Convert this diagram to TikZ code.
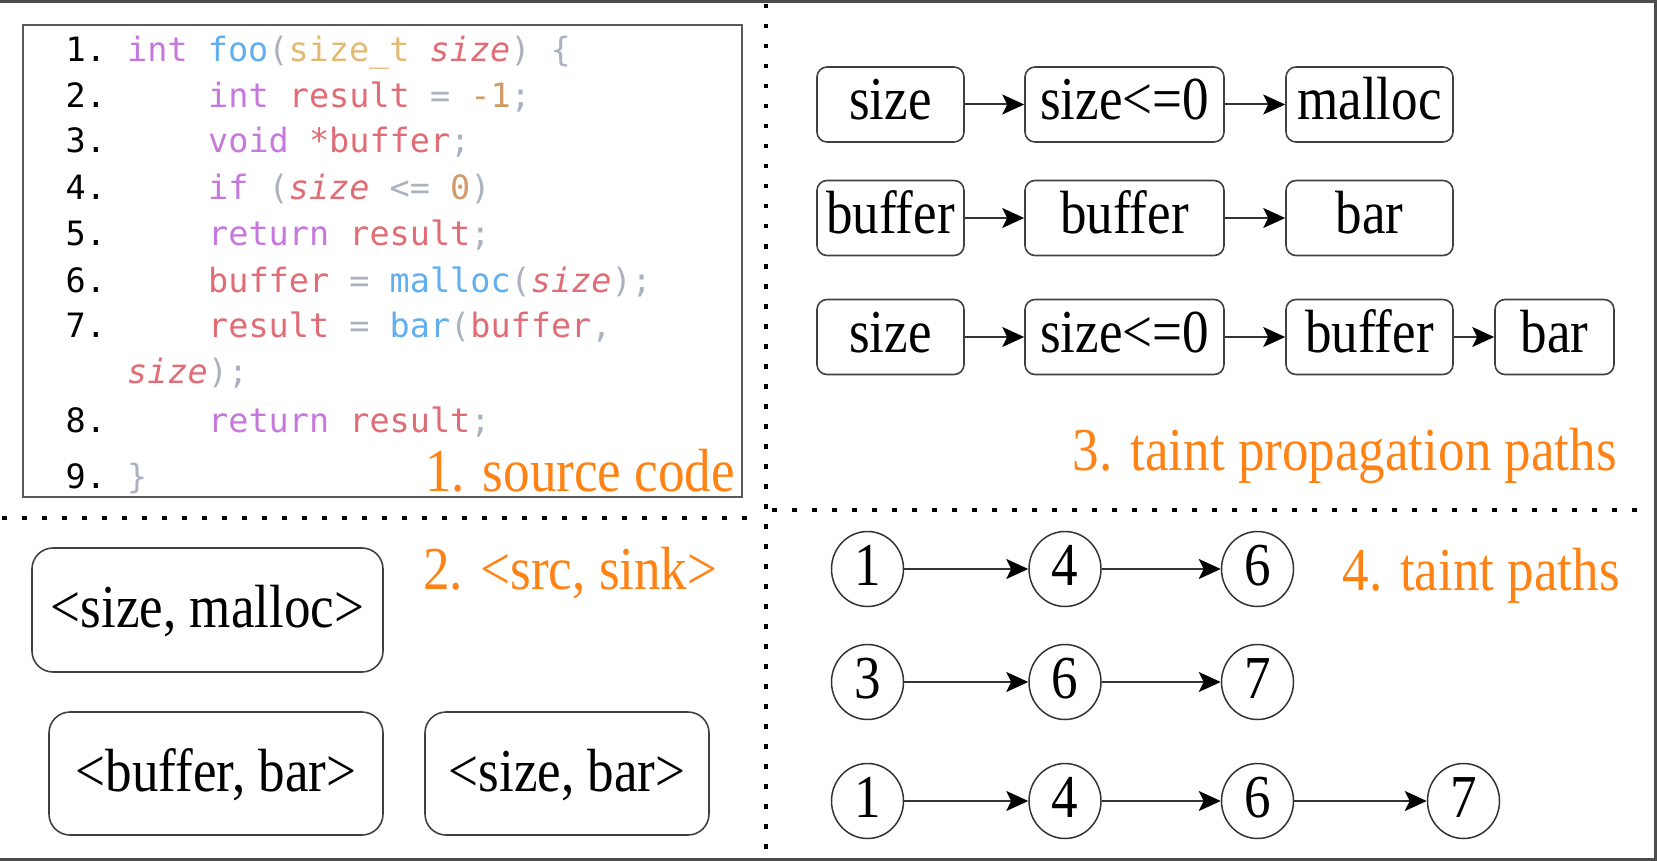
\documentclass[tikz,border=0pt]{standalone}
\usepackage{fontspec}
\setmainfont{Liberation Serif}[FakeStretch=0.87]
\newfontfamily\codefont{DejaVu Sans Mono}
\usetikzlibrary{arrows.meta,shapes.geometric}
\definecolor{ckw}{RGB}{198,120,221}
\definecolor{cfn}{RGB}{97,175,239}
\definecolor{cty}{RGB}{226,186,118}
\definecolor{cvar}{RGB}{224,108,117}
\definecolor{cpun}{RGB}{171,178,191}
\definecolor{cnum}{RGB}{209,154,102}
\definecolor{clbl}{RGB}{255,130,20}
\newcommand{\K}[1]{{\color{ckw}#1}}
\newcommand{\F}[1]{{\color{cfn}#1}}
\newcommand{\T}[1]{{\color{cty}#1}}
\newcommand{\V}[1]{{\color{cvar}#1}}
\newcommand{\VI}[1]{{\color{cvar}\itshape #1}}
\newcommand{\PU}[1]{{\color{cpun}#1}}
\newcommand{\N}[1]{{\color{cnum}#1}}
\tikzset{
  codeln/.style={anchor=base west, inner sep=0pt, font=\codefont\fontsize{33.5}{40}\selectfont},
  lnum/.style={codeln, text=black},
  pbox/.style={draw=black!75, line width=1.6pt, rounded corners=10pt, inner sep=0pt,
    font=\fontsize{61}{64}\selectfont, text height=40pt, text depth=9pt},
  pairbox/.style={draw=black!75, line width=1.6pt, rounded corners=21pt, inner sep=0pt,
    font=\fontsize{61}{64}\selectfont, text height=40pt, text depth=5pt},
  circ/.style={draw=black!80, line width=1.5pt, ellipse, inner sep=0pt, minimum width=72pt, minimum height=75pt,
    font=\fontsize{61}{64}\selectfont, text height=40pt, text depth=7pt},
  arr/.style={draw=black!80, line width=2pt, -{Stealth[length=22pt,width=20pt,inset=5pt,black]}},
  lbl/.style={text=clbl, inner sep=0pt, font=\fontsize{61}{64}\selectfont},
  dotline/.style={line width=4.5pt, dash pattern=on 4.5pt off 15.5pt, black},
}
\begin{document}
\begin{tikzpicture}[x=1pt,y=-1pt]
\useasboundingbox (0,0) rectangle (1657,861);
% frame
\draw[line width=3pt, black!70] (0,1.5) -- (1655.5,1.5) -- (1655.5,859.5) -- (0,859.5);
% dotted dividers
\draw[dotline] (766,4) -- (766,856);
\draw[dotline] (2,518) -- (758,518);
\draw[dotline] (772,510) -- (1652,510);

% ---- 1. source code ----
\node[draw=black!65, line width=2pt, minimum width=719pt, minimum height=472pt, inner sep=0pt] (codebox) at (382.5,261) {};
\node[lnum] (n1) at (65.5,62) {1.};
\node[lnum] (n2) at (65.5,108) {2.};
\node[lnum] (n3) at (65.5,153) {3.};
\node[lnum] (n4) at (65.5,200) {4.};
\node[lnum] (n5) at (65.5,245) {5.};
\node[lnum] (n6) at (65.5,292) {6.};
\node[lnum] (n7) at (65.5,337) {7.};
\node[lnum] (n8) at (65.5,432) {8.};
\node[lnum] (n9) at (65.5,488) {9.};
\node[codeln] (c1) at (127,62) {\K{int} \F{foo}\PU{(}\T{size\_t} \VI{size}\PU{)} \PU{\{}};
\node[codeln] (c2) at (208,108) {\K{int} \V{result} \PU{=} \N{-1}\PU{;}};
\node[codeln] (c3) at (208,153) {\K{void} \V{*buffer}\PU{;}};
\node[codeln] (c4) at (208,200) {\K{if} \PU{(}\VI{size} \PU{<=} \N{0}\PU{)}};
\node[codeln] (c5) at (208,245) {\K{return} \V{result}\PU{;}};
\node[codeln] (c6) at (208,292) {\V{buffer} \PU{=} \F{malloc}\PU{(}\VI{size}\PU{);}};
\node[codeln] (c7) at (208,337) {\V{result} \PU{=} \F{bar}\PU{(}\V{buffer}\PU{,}};
\node[codeln] (c7b) at (127,383) {\VI{size}\PU{);}};
\node[codeln] (c8) at (208,432) {\K{return} \V{result}\PU{;}};
\node[codeln] (c9) at (127,488) {\PU{\}}};
\node[lbl, anchor=base east] (l1) at (735,491) {1. source code};

% ---- 2. <src, sink> ----
\node[lbl, anchor=base west] (l2) at (423,589) {2. <src, sink>};
\node[pairbox, minimum width=351pt, minimum height=124pt] (p1) at (207.5,610) {<size, malloc>};
\node[pairbox, minimum width=334pt, minimum height=123pt] (p2) at (216,773.5) {<buffer, bar>};
\node[pairbox, minimum width=284pt, minimum height=123pt] (p3) at (567,773.5) {<size, bar>};

% ---- 3. taint propagation paths ----
\node[pbox, minimum width=147pt, minimum height=75pt] (a1) at (890.5,104.5) {size};
\node[pbox, minimum width=199pt, minimum height=75pt] (a2) at (1124.5,104.5) {size<=0};
\node[pbox, minimum width=167pt, minimum height=75pt] (a3) at (1369.5,104.5) {malloc};
\node[pbox, minimum width=147pt, minimum height=75pt] (b1) at (890.5,218) {buffer};
\node[pbox, minimum width=199pt, minimum height=75pt] (b2) at (1124.5,218) {buffer};
\node[pbox, minimum width=167pt, minimum height=75pt] (b3) at (1369.5,218) {bar};
\node[pbox, minimum width=147pt, minimum height=75pt] (d1) at (890.5,337) {size};
\node[pbox, minimum width=199pt, minimum height=75pt] (d2) at (1124.5,337) {size<=0};
\node[pbox, minimum width=167pt, minimum height=75pt] (d3) at (1369.5,337) {buffer};
\node[pbox, minimum width=119pt, minimum height=75pt] (d4) at (1554.5,337) {bar};
\draw[arr] (a1) -- (a2);
\draw[arr] (a2) -- (a3);
\draw[arr] (b1) -- (b2);
\draw[arr] (b2) -- (b3);
\draw[arr] (d1) -- (d2);
\draw[arr] (d2) -- (d3);
\draw[arr] (d3) -- (d4);
\node[lbl, anchor=base east] (l3) at (1617,470) {3. taint propagation paths};

% ---- 4. taint paths ----
\node[circ] (e1) at (867.5,569) {1};
\node[circ] (e2) at (1065,569) {4};
\node[circ] (e3) at (1257.5,569) {6};
\node[circ] (f1) at (867.5,682) {3};
\node[circ] (f2) at (1065,682) {6};
\node[circ] (f3) at (1257.5,682) {7};
\node[circ] (g1) at (867.5,801) {1};
\node[circ] (g2) at (1065,801) {4};
\node[circ] (g3) at (1257.5,801) {6};
\node[circ] (g4) at (1463.5,801) {7};
\draw[arr] (e1) -- (e2);
\draw[arr] (e2) -- (e3);
\draw[arr] (f1) -- (f2);
\draw[arr] (f2) -- (f3);
\draw[arr] (g1) -- (g2);
\draw[arr] (g2) -- (g3);
\draw[arr] (g3) -- (g4);
\node[lbl, anchor=base east] (l4) at (1620,590) {4. taint paths};
\end{tikzpicture}
\end{document}
